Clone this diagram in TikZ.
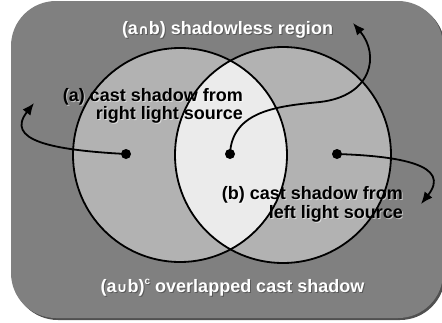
\documentclass[tikz,border=0pt]{standalone}
\usepackage{fontspec}
\setmainfont{Liberation Sans}
\newfontfamily\symf{DejaVu Sans}
\usetikzlibrary{arrows.meta}
\definecolor{bggray}{HTML}{808080}
\definecolor{bgshadow}{HTML}{505050}
\definecolor{cgray}{HTML}{B2B2B2}
\definecolor{lgray}{HTML}{EBEBEB}
\tikzset{
  lbl/.style={font=\fontsize{18}{18}\selectfont\bfseries, inner sep=0pt},
  darktxt/.style={lbl, text=black},
  darkshadow/.style={lbl, text=white, opacity=0.55},
  whitetxt/.style={lbl, text=white},
  whiteshadow/.style={lbl, text=black, opacity=0.3},
  ring/.style={draw=black, line width=1.8pt},
  dotnode/.style={circle, fill=black, inner sep=0pt, minimum size=10pt},
  arr/.style={line width=1.8pt, -{Latex[length=12pt,width=10pt]}},
}
\newcommand\shtxt[6]{%
  \node[#5shadow, anchor=#3] (#1s) at ($(#2)+(1,1)$) {#4};
  \node[#5txt, anchor=#3] (#1) at (#2) {#4};}
\newcommand\setsym[1]{{\symf\fontsize{13.5}{13.5}\selectfont #1}}
\usetikzlibrary{calc}
\begin{document}
\begin{tikzpicture}[x=1pt,y=-1pt]
\useasboundingbox (0,0) rectangle (442,322);
% background panel
\fill[bgshadow, rounded corners=45pt] (13,3) rectangle (445,320);
\fill[bggray, rounded corners=45pt] (11,1) rectangle (443,318);
% circles
\coordinate (cA) at (180,155);
\coordinate (cB) at (283,155);
\fill[cgray] (cA) circle[radius=107pt];
\fill[cgray] (cB) circle[radius=108pt];
\begin{scope}
  \clip (cA) circle[radius=107pt];
  \fill[lgray] (cB) circle[radius=108pt];
\end{scope}
% texts
\shtxt{tTop}{227.5,34}{base}{(a\setsym{∩}b) shadowless region}{white}{}
\shtxt{tA1}{243,101}{base east}{(a) cast shadow from}{dark}{}
\shtxt{tA2}{243,119}{base east}{right light source}{dark}{}
\shtxt{tB1}{403,199}{base east}{(b) cast shadow from}{dark}{}
\shtxt{tB2}{403,218}{base east}{left light source}{dark}{}
\shtxt{tBot}{232.5,292}{base}{(a\setsym{∪}b)\raisebox{0.42em}{\fontsize{10}{10}\selectfont c} overlapped cast shadow}{white}{}
% circle outlines
\draw[ring] (cA) circle[radius=107pt];
\draw[ring] (cB) circle[radius=108pt];
% dots
\node[dotnode] (dA) at (126,154) {};
\node[dotnode] (dM) at (230,154) {};
\node[dotnode] (dB) at (337,154) {};
% arrow ends
\coordinate (eA) at (34,103);
\coordinate (eM) at (353,23);
\coordinate (eB) at (421,204);
% arrows
\draw[arr] (dA.center) .. controls (50,150) and (5,140) .. (eA);
\draw[arr] (dM.center) .. controls (232,110) and (280,106) .. (320,102)
           .. controls (372,96) and (380,55) .. (eM);
\draw[arr] (dB.center) .. controls (400,156) and (452,165) .. (eB);
\end{tikzpicture}
\end{document}
